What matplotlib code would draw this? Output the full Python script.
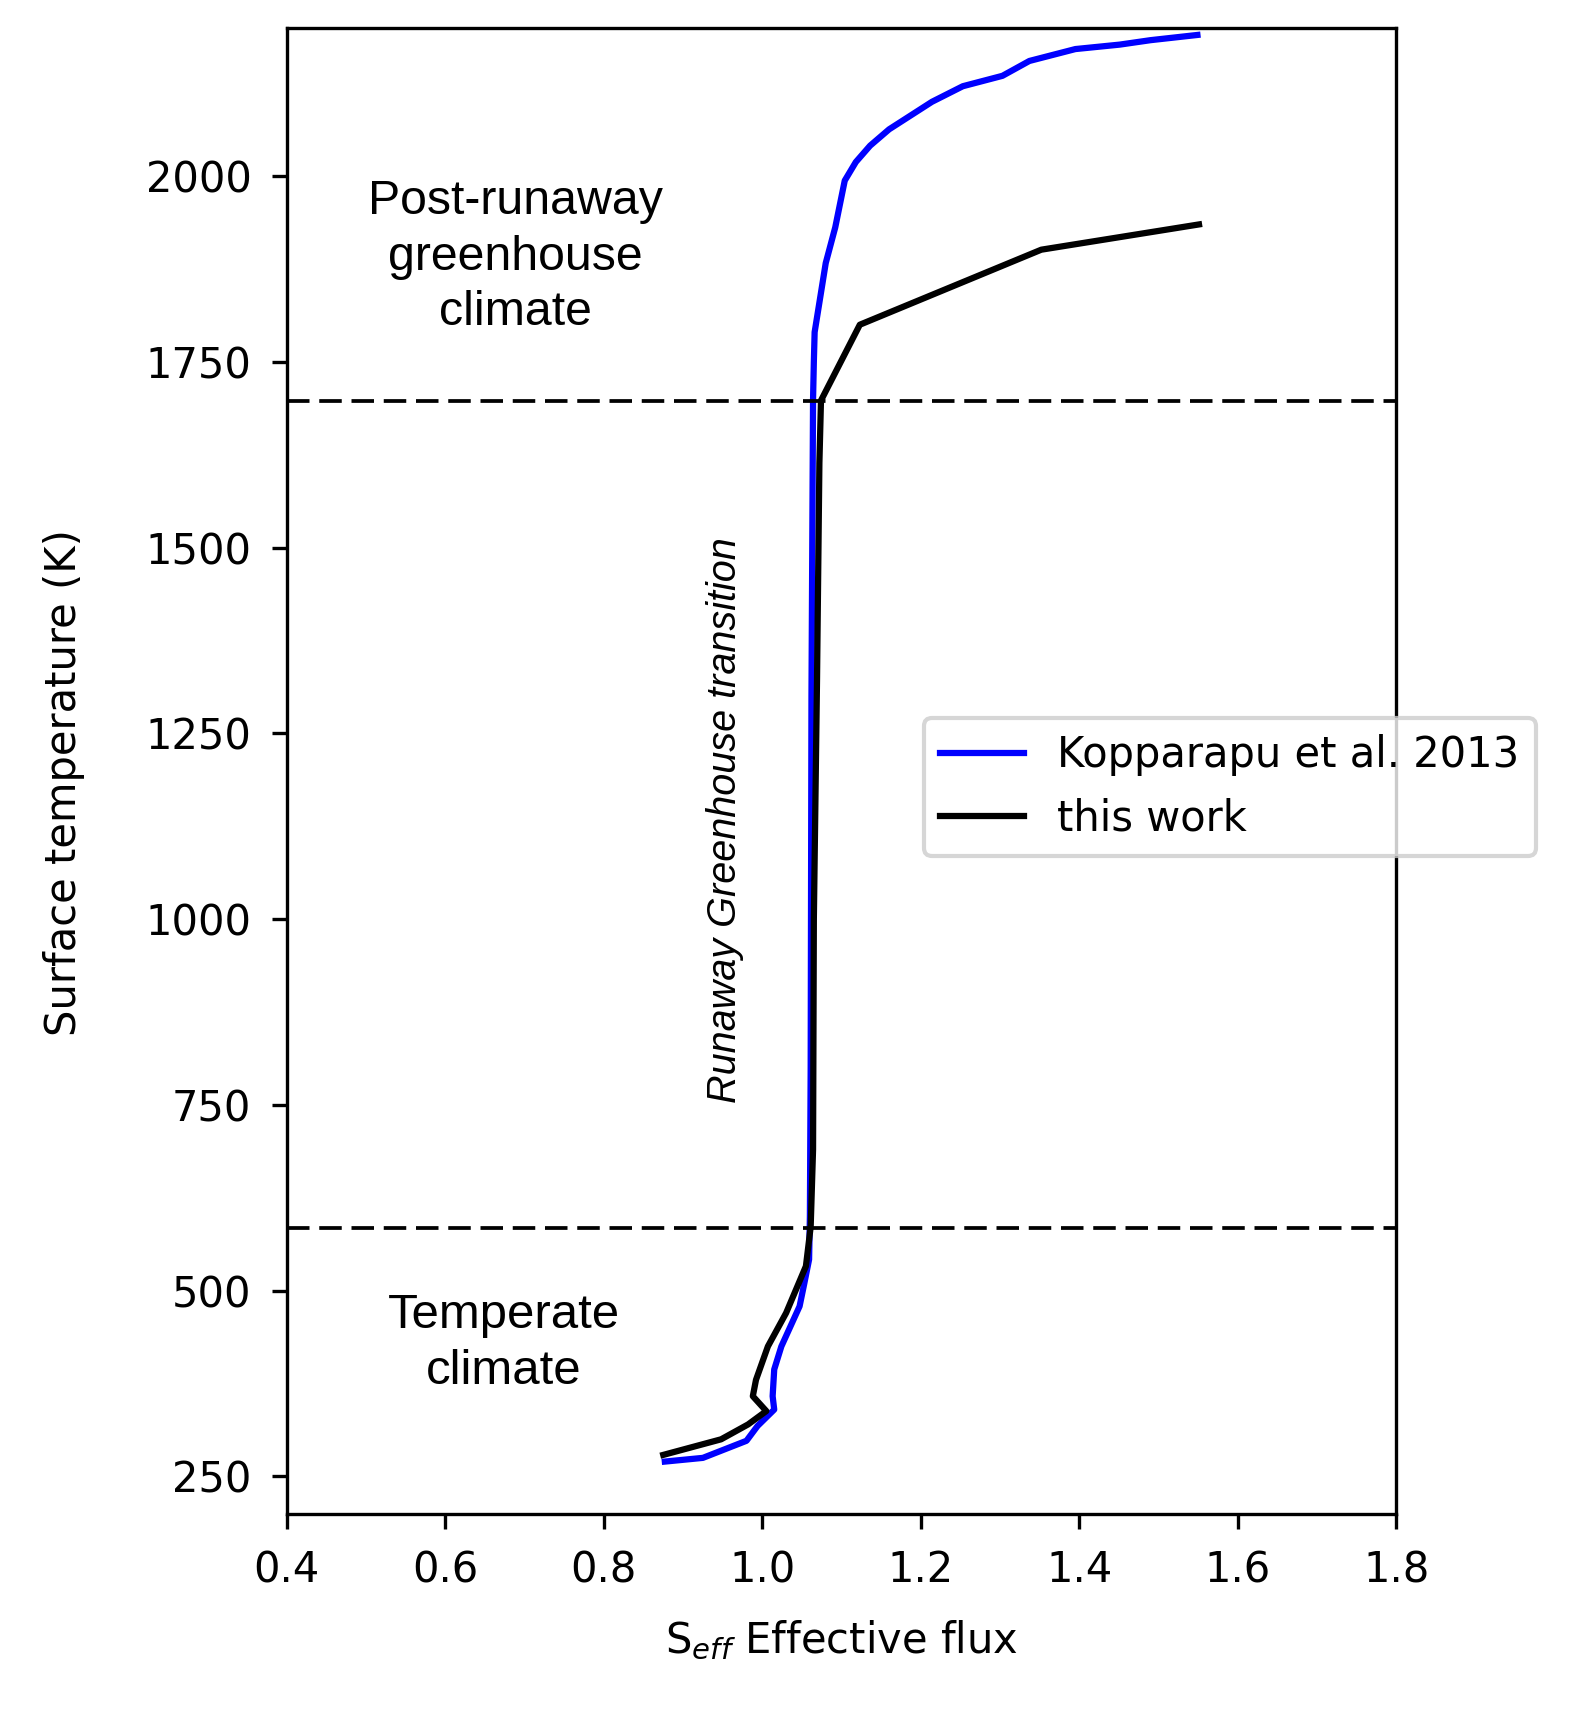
import matplotlib
matplotlib.use('Agg')
import matplotlib.pyplot as plt

# Kopparapu et al. 2013 curve
kopp_seff = [0.877, 0.925, 0.980, 0.994, 1.015, 1.013, 1.015, 1.024, 1.047, 1.053,
             1.059, 1.060, 1.061, 1.062, 1.064, 1.065, 1.066, 1.080, 1.092, 1.104,
             1.118, 1.136, 1.160, 1.214, 1.253, 1.303, 1.337, 1.395, 1.451, 1.490, 1.549]
kopp_temp = [270, 275, 298, 318, 340, 358, 394, 425, 479, 510,
             542, 600, 800, 1300, 1700, 1750, 1790, 1883, 1931, 1994,
             2019, 2041, 2063, 2100, 2121, 2135, 2155, 2171, 2177, 2183, 2190]

# this work
work_seff = [0.875, 0.948, 0.982, 1.005, 0.988, 0.992, 1.007, 1.030, 1.055, 1.061,
             1.064, 1.065, 1.069, 1.072, 1.074, 1.123, 1.352, 1.551]
work_temp = [279, 300, 320, 338, 358, 380, 425, 470, 533, 586,
             690, 1000, 1322, 1614, 1698, 1800, 1901, 1935]

# regime boundaries
t_runaway_start = 584
t_post_runaway = 1697

xticks = [0.4, 0.6, 0.8, 1.0, 1.2, 1.4, 1.6, 1.8]
yticks = [250, 500, 750, 1000, 1250, 1500, 1750, 2000]

fig = plt.figure(figsize=(1576 / 300, 1720 / 300), dpi=300)
ax = fig.add_axes([0.182, 0.120, 0.704, 0.864])

ax.plot(kopp_seff, kopp_temp, color='blue', lw=1.5, label='Kopparapu et al. 2013')
ax.plot(work_seff, work_temp, color='black', lw=1.5, label='this work')

ax.axhline(t_post_runaway, color='black', lw=0.9, linestyle=(0, (6, 2.6)))
ax.axhline(t_runaway_start, color='black', lw=0.9, linestyle=(0, (6, 2.6)))

ax.set_xlim(0.4, 1.8)
ax.set_ylim(200, 2200)
ax.set_xticks(xticks)
ax.set_yticks(yticks)
ax.tick_params(axis='both', labelsize=10)
ax.tick_params(axis='y', pad=5)
ax.tick_params(axis='x', pad=5)

ax.set_xlabel(r'S$_{eff}$ Effective flux', fontsize=10)
ax.set_ylabel('Surface temperature (K)', fontsize=10)
ax.xaxis.set_label_coords(0.5, -0.071)
ax.yaxis.set_label_coords(-0.182, 0.492)

arial = ['Liberation Sans', 'DejaVu Sans']
ax.text(0.688, 1891, 'Post-runaway\ngreenhouse\nclimate', ha='center', va='center',
        fontsize=11.6, family=arial, multialignment='center', linespacing=1.3)
ax.text(0.674, 429, 'Temperate\nclimate', ha='center', va='center',
        fontsize=11.8, family=arial, multialignment='center', linespacing=1.3)
ax.text(0.953, 1133, 'Runaway Greenhouse transition', rotation=90, ha='center',
        va='center', fontsize=9.5, family=arial, style='italic')

ax.legend(loc='center left', bbox_to_anchor=(0.574, 0.489), borderaxespad=0,
          fontsize=10)

fig.savefig('out.png', dpi=300)
